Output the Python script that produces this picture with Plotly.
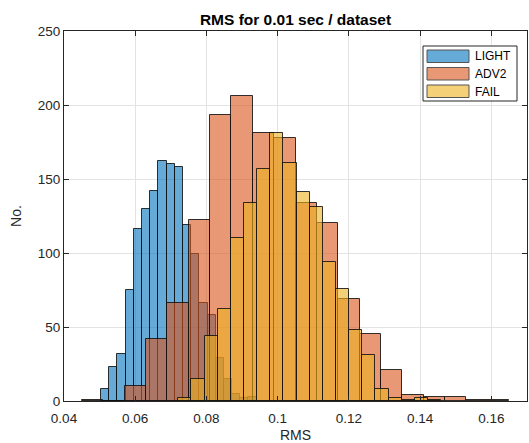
import plotly.graph_objects as go

# ---- data (histogram bins) ----
light_start = 0.0504
light_width = 0.0023
light_counts = [8, 23, 32, 75, 116, 130, 142, 162, 160, 158, 119, 99, 66, 58, 29, 15, 5, 2, 3]

adv2_start = 0.045
adv2_width = 0.006
adv2_counts = [1, 0, 10, 42, 66, 122, 193, 206, 181, 178, 134, 120, 69, 45, 21, 4, 3, 3, 1, 1]

fail_start = 0.0721
fail_width = 0.00369
fail_counts = [2, 15, 44, 62, 110, 134, 157, 181, 161, 141, 131, 94, 76, 48, 31, 8, 2, 1, 2, 1]

series_names = ["LIGHT", "ADV2", "FAIL"]
x_tickvals = [0.04, 0.06, 0.08, 0.10, 0.12, 0.14, 0.16]
x_ticktext = ["0.04", "0.06", "0.08", "0.1", "0.12", "0.14", "0.16"]
y_tickvals = [0, 50, 100, 150, 200, 250]

colors = ["rgba(0,114,189,0.6)", "rgba(217,83,25,0.6)", "rgba(237,177,32,0.6)"]
edge = "rgba(15,15,15,0.85)"

def centers(start, width, counts):
    return [start + width * (i + 0.5) for i in range(len(counts))]

fig = go.Figure()
for name, (s, w, c), col in zip(series_names,
                                [(light_start, light_width, light_counts),
                                 (adv2_start, adv2_width, adv2_counts),
                                 (fail_start, fail_width, fail_counts)],
                                colors):
    fig.add_trace(go.Bar(x=centers(s, w, c), y=c, width=w, name=name,
                         marker=dict(color=col, line=dict(color=edge, width=1))))

W, H = 529, 443
L, R, T, B = 64, 2, 31, 42
pw, ph = W - L - R, H - T - B

def px(xp):
    return (xp - L) / pw

def py(yp):
    return (H - B - yp) / ph

shapes = []
annotations = []
# legend box
shapes.append(dict(type="rect", xref="paper", yref="paper",
                   x0=px(423), x1=px(517), y0=py(101), y1=py(46),
                   line=dict(color="#262626", width=1), fillcolor="white", layer="above"))
row_tops = [50, 67.5, 85]
for name, col, yt in zip(series_names, colors, row_tops):
    shapes.append(dict(type="rect", xref="paper", yref="paper",
                       x0=px(427), x1=px(469), y0=py(yt + 12.5), y1=py(yt),
                       line=dict(color="#555555", width=1), fillcolor=col, layer="above"))
    annotations.append(dict(xref="paper", yref="paper", x=px(473), y=py(yt + 6.5),
                            text=name, showarrow=False, xanchor="left", yanchor="middle",
                            font=dict(family="Liberation Sans, Arial", size=12, color="#000000")))

fig.update_layout(
    width=W, height=H,
    margin=dict(l=L, r=R, t=T, b=B),
    barmode="overlay", bargap=0,
    showlegend=False,
    plot_bgcolor="white", paper_bgcolor="white",
    font=dict(family="Liberation Sans, Arial", size=13, color="#262626"),
    title=dict(text="<b>RMS for 0.01 sec / dataset</b>", x=(L + pw / 2) / W, xanchor="center",
               y=1 - 20 / H, yanchor="middle",
               font=dict(family="Liberation Sans, Arial", size=15.5, color="#000000")),
    xaxis=dict(range=[0.04, 0.17], tickvals=x_tickvals, ticktext=x_ticktext,
               showgrid=True, gridcolor="#e3e3e3", zeroline=False,
               showline=True, linecolor="#262626", linewidth=1, mirror="ticks",
               ticks="inside", ticklen=5, tickcolor="#262626", ticklabelstandoff=5,
               tickfont=dict(size=13.5),
               title=dict(text="RMS", standoff=4, font=dict(size=14))),
    yaxis=dict(range=[0, 250], tickvals=y_tickvals,
               showgrid=True, gridcolor="#e3e3e3", zeroline=False,
               showline=True, linecolor="#262626", linewidth=1, mirror="ticks",
               ticks="inside", ticklen=5, tickcolor="#262626",
               tickfont=dict(size=13.5),
               title=dict(text="No.", standoff=12, font=dict(size=14))),
    shapes=shapes, annotations=annotations,
)

fig.write_html("out.html")
